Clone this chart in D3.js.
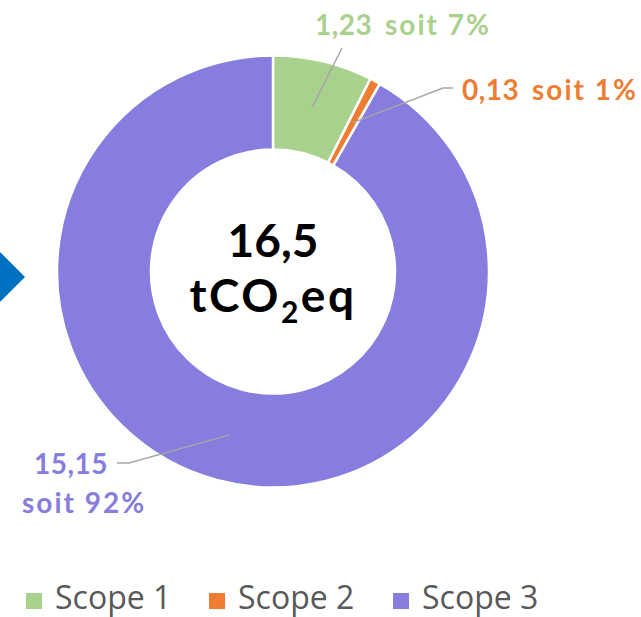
<!DOCTYPE html>
<html>
<head>
<meta charset="utf-8">
<script src="https://cdn.jsdelivr.net/npm/d3@7"></script>
<style>
  html, body { margin: 0; padding: 0; background: #fff; }
  svg { display: block; }
</style>
</head>
<body>
<svg id="chart" width="641" height="617"></svg>
<script>
// ---- Data ----
const categories = ["Scope 1", "Scope 2", "Scope 3"];
const values = [1.23, 0.13, 15.15];
const valueLabels = ["1,23", "0,13", "15,15"];
const percentLabels = ["soit 7%", "soit 1%", "soit 92%"];
const colors = ["#A9D18E", "#ED7D31", "#877DDE"];
const totalValue = "16,5";
const totalUnit = ["tCO", "2", "eq"];

// ---- Layout ----
const W = 641, H = 617;
const cx = 273, cy = 271.5;
const rOuter = 216, rInner = 122;
const labelFont = "'Lato', 'DejaVu Sans', sans-serif";

const svg = d3.select("#chart");

// blue arrow on the left
svg.append("path")
  .attr("d", "M-3,249 L25,277 L-3,305 Z")
  .attr("fill", "#0070C0");

const g = svg.append("g").attr("transform", `translate(${cx},${cy})`);

const pie = d3.pie().sort(null).value(d => d)(values);
const arc = d3.arc().innerRadius(rInner).outerRadius(rOuter);
const midArc = d3.arc().innerRadius((rInner + rOuter) / 2).outerRadius((rInner + rOuter) / 2);

g.selectAll("path.slice")
  .data(pie)
  .join("path")
  .attr("class", "slice")
  .attr("d", arc)
  .attr("fill", (d, i) => colors[i])
  .attr("stroke", "#fff")
  .attr("stroke-width", 2.5);

// leader lines (start at slice centroid; elbows in absolute page coords)
const leaderEnds = [
  [[342, 48]],
  [[443, 88], [453, 88]],
  [[129, 463], [117, 463]]
];
pie.forEach((d, i) => {
  const c = midArc.centroid(d);
  const pts = [[cx + c[0], cy + c[1]]].concat(leaderEnds[i]);
  svg.append("path")
    .attr("d", d3.line()(pts))
    .attr("fill", "none")
    .attr("stroke", "#A6A6A6")
    .attr("stroke-width", 1.5);
});

// data labels
function twoPart(x1, x2, y, i) {
  const t = svg.append("text")
    .attr("y", y)
    .attr("fill", colors[i])
    .attr("font-family", labelFont)
    .attr("font-weight", "bold")
    .attr("font-size", 28);
  t.append("tspan").attr("x", x1).attr("letter-spacing", 0.5).text(valueLabels[i]);
  t.append("tspan").attr("x", x2).attr("letter-spacing", 2).text(percentLabels[i]);
}
twoPart(315, 385, 35, 0);
twoPart(462, 532, 100, 1);

svg.append("text")
  .attr("x", 108).attr("y", 474)
  .attr("text-anchor", "end")
  .attr("fill", colors[2])
  .attr("font-family", labelFont)
  .attr("font-weight", "bold")
  .attr("font-size", 28)
  .attr("letter-spacing", 0.5)
  .text(valueLabels[2]);
svg.append("text")
  .attr("x", 22).attr("y", 513)
  .attr("fill", colors[2])
  .attr("font-family", labelFont)
  .attr("font-weight", "bold")
  .attr("font-size", 28)
  .attr("letter-spacing", 2)
  .text(percentLabels[2]);

// centre text
svg.append("text")
  .attr("x", 273).attr("y", 257)
  .attr("text-anchor", "middle")
  .attr("font-family", labelFont)
  .attr("font-weight", "bold")
  .attr("font-size", 46)
  .attr("fill", "#000")
  .text(totalValue);

const unit = svg.append("text")
  .attr("x", 273).attr("y", 312)
  .attr("text-anchor", "middle")
  .attr("font-family", labelFont)
  .attr("font-weight", "bold")
  .attr("font-size", 46)
  .attr("letter-spacing", 2.5)
  .attr("fill", "#000");
unit.append("tspan").text(totalUnit[0]);
unit.append("tspan").attr("font-size", 30).attr("dy", 11).text(totalUnit[1]);
unit.append("tspan").attr("dy", -11).text(totalUnit[2]);

// legend
const legendX = [26, 209, 393];
const legend = svg.append("g");
categories.forEach((c, i) => {
  legend.append("rect")
    .attr("x", legendX[i]).attr("y", 593)
    .attr("width", 16).attr("height", 16)
    .attr("fill", colors[i]);
  legend.append("text")
    .attr("x", legendX[i] + 29).attr("y", 609)
    .attr("font-family", "'Open Sans', sans-serif")
    .attr("font-size", 32)
    .attr("fill", "#595959")
    .text(c);
});
</script>
</body>
</html>
